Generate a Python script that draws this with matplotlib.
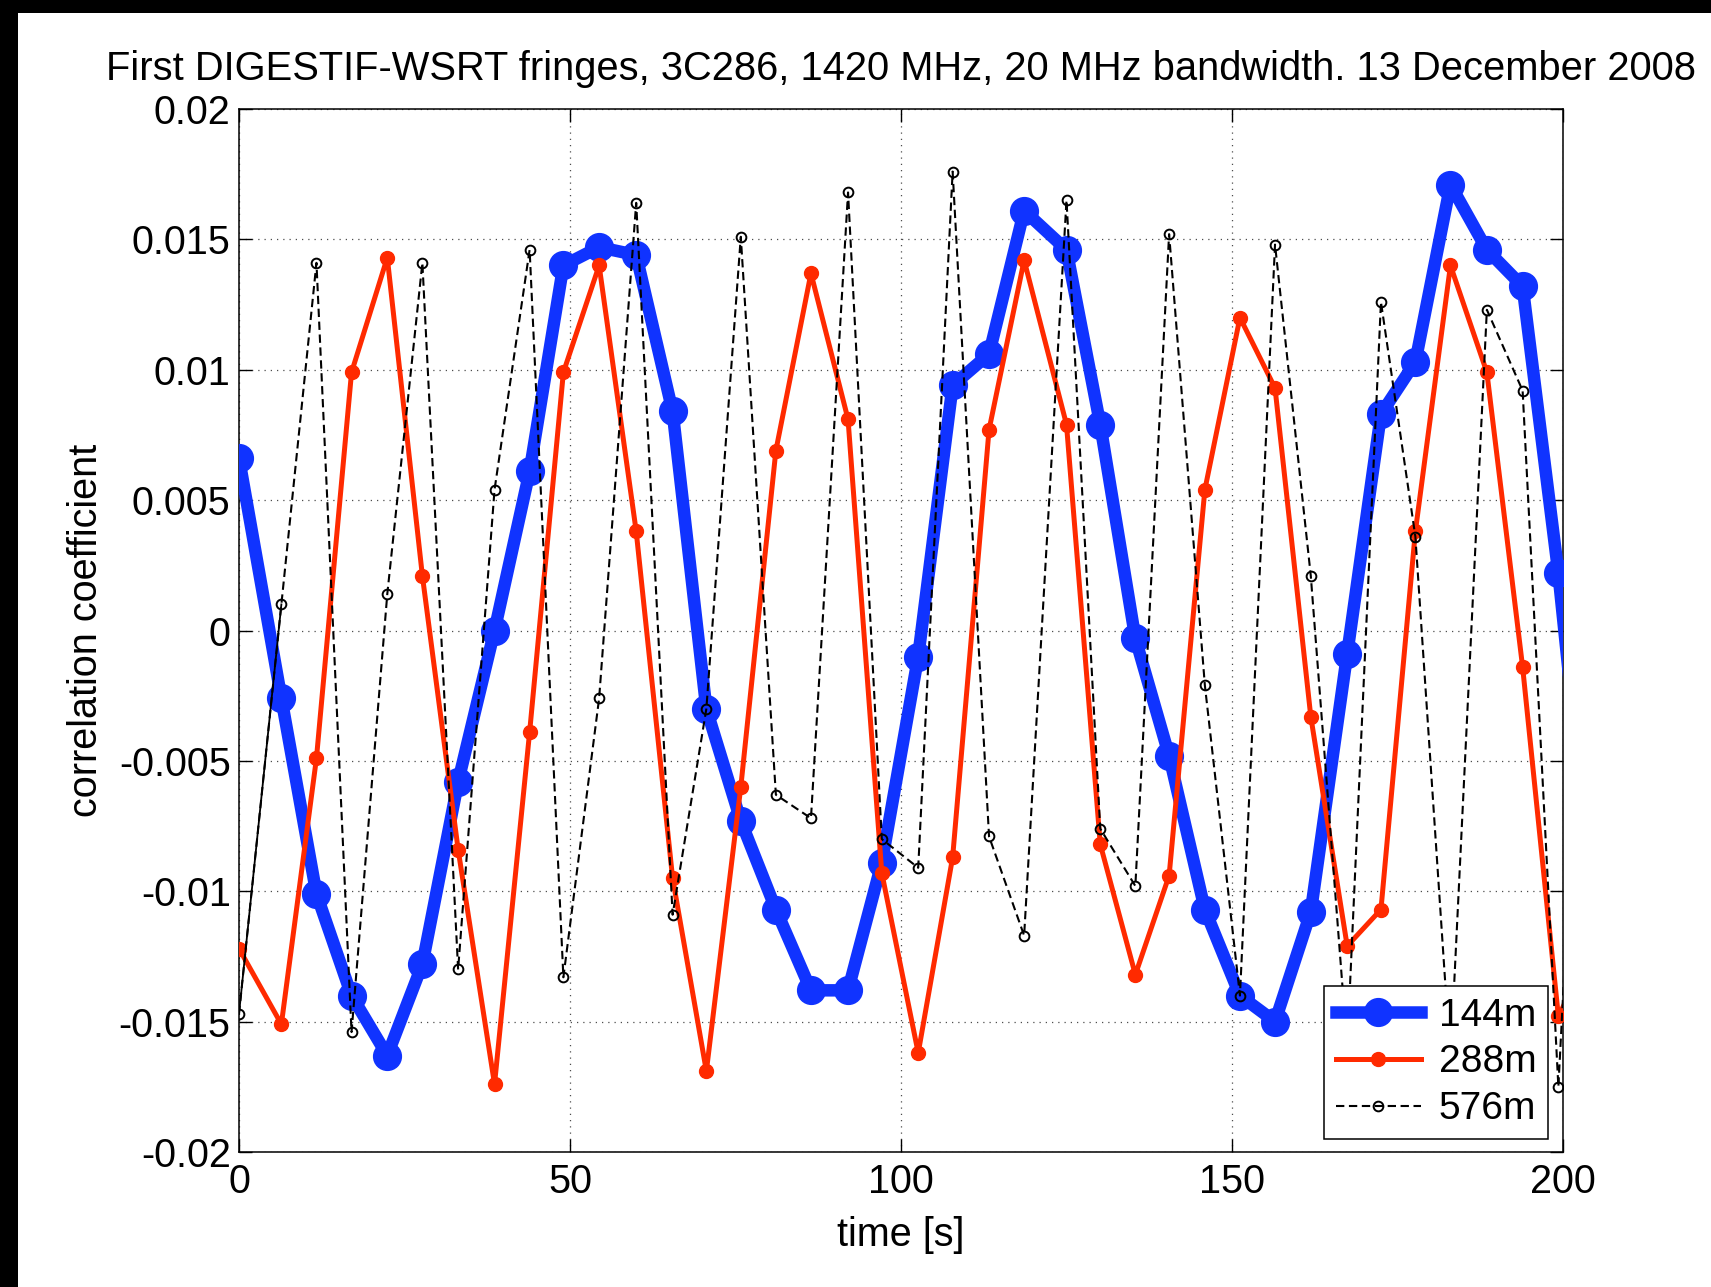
import matplotlib
matplotlib.use("Agg")
import matplotlib.pyplot as plt
from matplotlib.patches import Rectangle

plt.rcParams['font.family'] = ['Liberation Sans', 'DejaVu Sans']

# ---- data ----
time_s = [0, 6.4, 11.7, 17.0, 22.4, 27.7, 33.1, 38.6, 43.9, 49.0, 54.4, 60.0, 65.5,
          70.6, 75.8, 81.1, 86.4, 92.0, 97.1, 102.6, 107.8, 113.3, 118.6, 125.0,
          130.1, 135.4, 140.5, 145.9, 151.2, 156.5, 161.9, 167.4, 172.5, 177.7,
          183.0, 188.5, 193.9, 199.3, 204.7]

corr_144m = [0.0066, -0.0026, -0.0101, -0.0140, -0.0163, -0.0128, -0.0058, 0.0000,
             0.0061, 0.0140, 0.0147, 0.0144, 0.0084, -0.0030, -0.0073, -0.0107,
             -0.0138, -0.0138, -0.0089, -0.0010, 0.0094, 0.0106, 0.0161, 0.0146,
             0.0079, -0.0003, -0.0048, -0.0107, -0.0140, -0.0150, -0.0108, -0.0009,
             0.0083, 0.0103, 0.0171, 0.0146, 0.0132, 0.0022, -0.0110]

corr_288m = [-0.0122, -0.0151, -0.0049, 0.0099, 0.0143, 0.0021, -0.0084, -0.0174,
             -0.0039, 0.0099, 0.0140, 0.0038, -0.0095, -0.0169, -0.0060, 0.0069,
             0.0137, 0.0081, -0.0093, -0.0162, -0.0087, 0.0077, 0.0142, 0.0079,
             -0.0082, -0.0132, -0.0094, 0.0054, 0.0120, 0.0093, -0.0033, -0.0121,
             -0.0107, 0.0038, 0.0140, 0.0099, -0.0014, -0.0148, -0.0120]

corr_576m = [-0.0147, 0.0010, 0.0141, -0.0154, 0.0014, 0.0141, -0.0130, 0.0054,
             0.0146, -0.0133, -0.0026, 0.0164, -0.0109, -0.0030, 0.0151, -0.0063,
             -0.0072, 0.0168, -0.0080, -0.0091, 0.0176, -0.0079, -0.0117, 0.0165,
             -0.0076, -0.0098, 0.0152, -0.0021, -0.0140, 0.0148, 0.0021, -0.0160,
             0.0126, 0.0036, -0.0165, 0.0123, 0.0092, -0.0175, 0.0090]

labels = ['144m', '288m', '576m']
xticks = [0, 50, 100, 150, 200]
yticks = [-0.02, -0.015, -0.01, -0.005, 0, 0.005, 0.01, 0.015, 0.02]
ytick_labels = ['-0.02', '-0.015', '-0.01', '-0.005', '0', '0.005', '0.01', '0.015', '0.02']
title = 'First DIGESTIF-WSRT fringes, 3C286, 1420 MHz, 20 MHz bandwidth. 13 December 2008'

# ---- figure ----
W, H = 1711, 1287
fig = plt.figure(figsize=(W / 100, H / 100), dpi=100, facecolor='white')
# black frame strips (top and left) present in the reference screenshot
fig.add_artist(Rectangle((0, 1 - 13 / H), 1, 13 / H, transform=fig.transFigure,
                         facecolor='black', edgecolor='none', zorder=-5))
fig.add_artist(Rectangle((0, 0), 18 / W, 1, transform=fig.transFigure,
                         facecolor='black', edgecolor='none', zorder=-5))

ax = fig.add_axes([239 / W, (H - 1152) / H, (1563 - 239) / W, (1152 - 109) / H])

blue = '#1033FF'
red = '#FF2A00'

ax.plot(time_s, corr_144m, color=blue, lw=9, marker='o', ms=20,
        mfc=blue, mec=blue, label=labels[0], zorder=3)
ax.plot(time_s, corr_288m, color=red, lw=3.6, marker='o', ms=10,
        mfc=red, mec=red, label=labels[1], zorder=4)
ax.plot(time_s, corr_576m, color='black', lw=1.5, ls=(0, (4.0, 2.2)), marker='o',
        ms=7, mfc='none', mec='black', mew=1.4, label=labels[2], zorder=5)
# first segment of the 576m trace renders solid in the original
ax.plot(time_s[:2], corr_576m[:2], color='black', lw=1.3, zorder=5)

ax.set_xlim(0, 200)
ax.set_ylim(-0.02, 0.02)
ax.set_xticks(xticks)
ax.set_xticklabels([str(v) for v in xticks])
ax.set_yticks(yticks)
ax.set_yticklabels(ytick_labels)

ax.tick_params(axis='both', which='both', direction='in', length=9.5, width=1.0,
               top=True, right=True, labelsize=28.5, colors='black')
ax.tick_params(axis='x', pad=8)
ax.tick_params(axis='y', pad=6)
for sp in ax.spines.values():
    sp.set_linewidth(1.1)
    sp.set_color('black')

ax.grid(True, color='0.3', ls=(0, (1, 4)), lw=0.9)
ax.set_axisbelow(True)

ax.set_xlabel('time [s]', fontsize=28.5)
ax.set_ylabel('correlation coefficient', fontsize=28.5)
ax.xaxis.set_label_coords(0.5, -0.061)
ax.yaxis.set_label_coords(-0.101, 0.5)
ax.set_title(title, fontsize=28.7, pad=21)

leg = ax.legend(loc='lower right', bbox_to_anchor=(0.9887, 0.0125), borderaxespad=0,
                fontsize=28, frameon=True, fancybox=False, framealpha=1,
                edgecolor='black', handlelength=2.2, labelspacing=0.28,
                numpoints=1, borderpad=0.3, handletextpad=0.45)
leg.get_frame().set_linewidth(1.1)
leg.set_zorder(10)

fig.savefig('out.png', dpi=100, facecolor='white')
